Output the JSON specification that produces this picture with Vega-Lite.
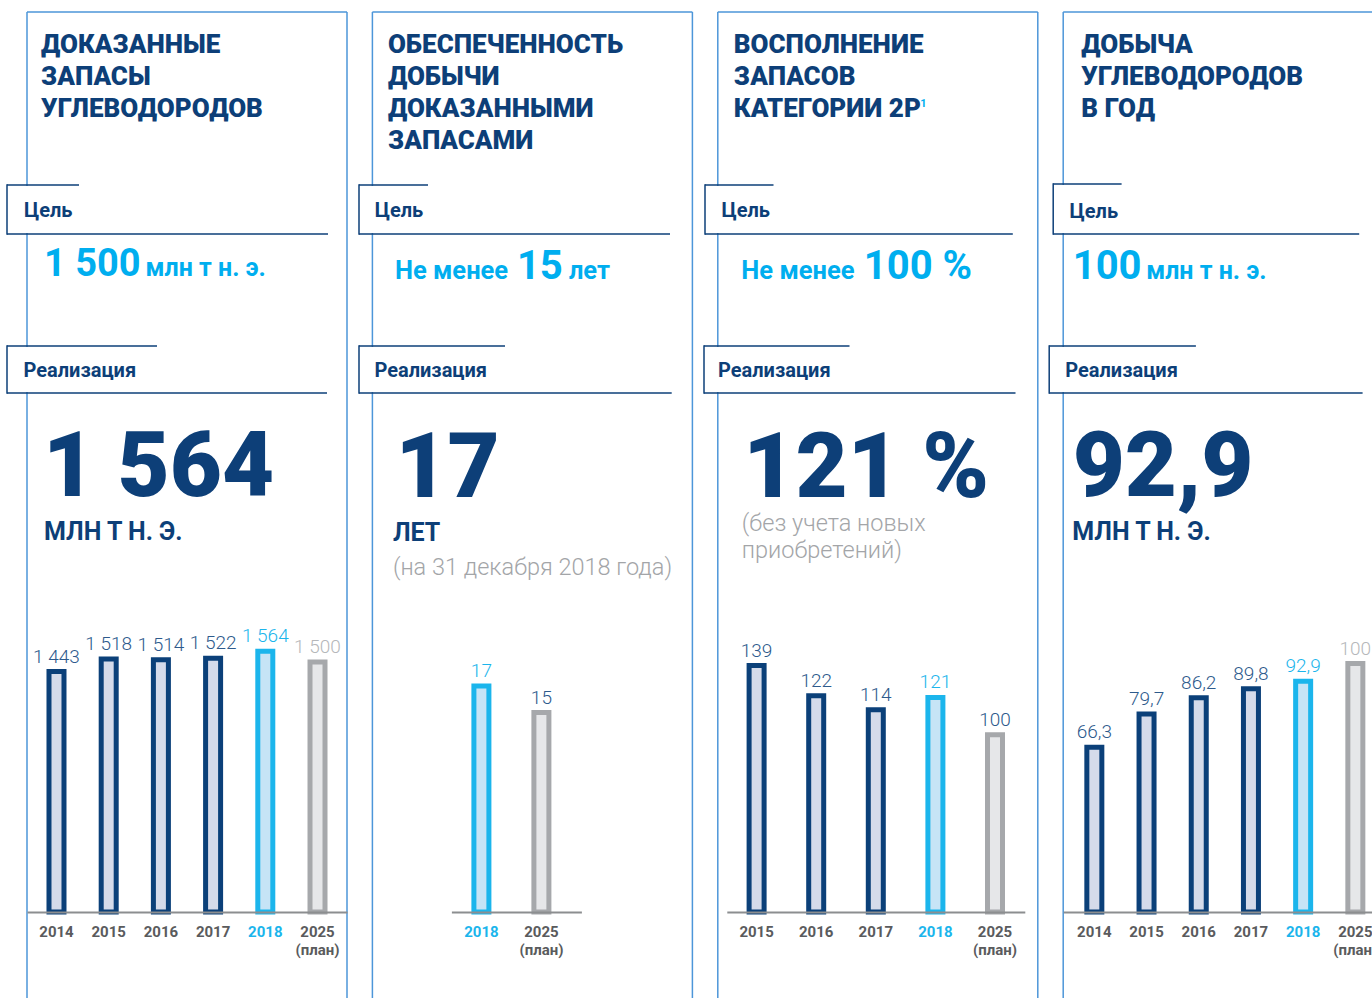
{
"$schema": "https://vega.github.io/schema/vega-lite/v6.json",
"padding": {"left": 6, "top": 11, "right": 0, "bottom": 0},
"bounds": "flush",
"spacing": 25.4,
"background": "#ffffff",
"config": {
  "view": {"stroke": null},
  "font": "Roboto",
  "locale": {"number": {"decimal": ",", "thousands": " ", "grouping": [3], "currency": ["", ""]}}
},
"datasets": {
  "reserves": [
    {"year": "2014", "value": 1443, "status": "fact"},
    {"year": "2015", "value": 1518, "status": "fact"},
    {"year": "2016", "value": 1514, "status": "fact"},
    {"year": "2017", "value": 1522, "status": "fact"},
    {"year": "2018", "value": 1564, "status": "current"},
    {"year": "2025", "value": 1500, "status": "plan"}
  ],
  "sufficiency": [
    {"year": "2018", "value": 17, "status": "current"},
    {"year": "2025", "value": 15, "status": "plan"}
  ],
  "replacement": [
    {"year": "2015", "value": 139, "status": "fact"},
    {"year": "2016", "value": 122, "status": "fact"},
    {"year": "2017", "value": 114, "status": "fact"},
    {"year": "2018", "value": 121, "status": "current"},
    {"year": "2025", "value": 100, "status": "plan"}
  ],
  "production": [
    {"year": "2014", "value": 66.3, "status": "fact"},
    {"year": "2015", "value": 79.7, "status": "fact"},
    {"year": "2016", "value": 86.2, "status": "fact"},
    {"year": "2017", "value": 89.8, "status": "fact"},
    {"year": "2018", "value": 92.9, "status": "current"},
    {"year": "2025", "value": 100, "status": "plan"}
  ]
},
"hconcat": [
{
"width": 320, "height": 900,
"resolve": {"scale": {"x": "independent", "y": "independent"}},
"layer": [
 {"data": {"values": [{"element": "frame"}]},
  "layer": [
   {"mark": {"type": "rule", "stroke": "#4d96d9", "strokeWidth": 1.5}, "encoding": {"x": {"datum": 0, "type": "quantitative", "scale": {"domain": [0, 320], "nice": false, "zero": false}, "axis": null}, "x2": {"datum": 320}, "y": {"datum": 0, "type": "quantitative", "scale": {"domain": [900, 0], "nice": false, "zero": false}, "axis": null}}},
   {"mark": {"type": "rule", "stroke": "#4d96d9", "strokeWidth": 1.5}, "encoding": {"x": {"datum": 0, "type": "quantitative", "scale": {"domain": [0, 320], "nice": false, "zero": false}, "axis": null}, "y": {"datum": 0, "type": "quantitative", "scale": {"domain": [900, 0], "nice": false, "zero": false}, "axis": null}, "y2": {"datum": 986}}},
   {"mark": {"type": "rule", "stroke": "#4d96d9", "strokeWidth": 1.5}, "encoding": {"x": {"datum": 320, "type": "quantitative", "scale": {"domain": [0, 320], "nice": false, "zero": false}, "axis": null}, "y": {"datum": 0, "type": "quantitative", "scale": {"domain": [900, 0], "nice": false, "zero": false}, "axis": null}, "y2": {"datum": 986}}},
   {"mark": {"type": "rect", "fill": "#ffffff"}, "encoding": {"x": {"datum": -19, "type": "quantitative", "scale": {"domain": [0, 320], "nice": false, "zero": false}, "axis": null}, "x2": {"datum": 4}, "y": {"datum": 174, "type": "quantitative", "scale": {"domain": [900, 0], "nice": false, "zero": false}, "axis": null}, "y2": {"datum": 221}}},
   {"mark": {"type": "rule", "stroke": "#0d3f78", "strokeWidth": 1.5}, "encoding": {"x": {"datum": -20, "type": "quantitative", "scale": {"domain": [0, 320], "nice": false, "zero": false}, "axis": null}, "x2": {"datum": 52}, "y": {"datum": 173, "type": "quantitative", "scale": {"domain": [900, 0], "nice": false, "zero": false}, "axis": null}}},
   {"mark": {"type": "rule", "stroke": "#0d3f78", "strokeWidth": 1.5}, "encoding": {"x": {"datum": -20, "type": "quantitative", "scale": {"domain": [0, 320], "nice": false, "zero": false}, "axis": null}, "y": {"datum": 172.3, "type": "quantitative", "scale": {"domain": [900, 0], "nice": false, "zero": false}, "axis": null}, "y2": {"datum": 222.7}}},
   {"mark": {"type": "rule", "stroke": "#0d3f78", "strokeWidth": 1.5}, "encoding": {"x": {"datum": -20, "type": "quantitative", "scale": {"domain": [0, 320], "nice": false, "zero": false}, "axis": null}, "x2": {"datum": 301}, "y": {"datum": 222, "type": "quantitative", "scale": {"domain": [900, 0], "nice": false, "zero": false}, "axis": null}}},
   {"mark": {"type": "rect", "fill": "#ffffff"}, "encoding": {"x": {"datum": -19, "type": "quantitative", "scale": {"domain": [0, 320], "nice": false, "zero": false}, "axis": null}, "x2": {"datum": 4}, "y": {"datum": 335, "type": "quantitative", "scale": {"domain": [900, 0], "nice": false, "zero": false}, "axis": null}, "y2": {"datum": 380}}},
   {"mark": {"type": "rule", "stroke": "#0d3f78", "strokeWidth": 1.5}, "encoding": {"x": {"datum": -20, "type": "quantitative", "scale": {"domain": [0, 320], "nice": false, "zero": false}, "axis": null}, "x2": {"datum": 130}, "y": {"datum": 334, "type": "quantitative", "scale": {"domain": [900, 0], "nice": false, "zero": false}, "axis": null}}},
   {"mark": {"type": "rule", "stroke": "#0d3f78", "strokeWidth": 1.5}, "encoding": {"x": {"datum": -20, "type": "quantitative", "scale": {"domain": [0, 320], "nice": false, "zero": false}, "axis": null}, "y": {"datum": 333.3, "type": "quantitative", "scale": {"domain": [900, 0], "nice": false, "zero": false}, "axis": null}, "y2": {"datum": 381.7}}},
   {"mark": {"type": "rule", "stroke": "#0d3f78", "strokeWidth": 1.5}, "encoding": {"x": {"datum": -20, "type": "quantitative", "scale": {"domain": [0, 320], "nice": false, "zero": false}, "axis": null}, "x2": {"datum": 300}, "y": {"datum": 381, "type": "quantitative", "scale": {"domain": [900, 0], "nice": false, "zero": false}, "axis": null}}},
   {"data": {"values": [{"text": ["ДОКАЗАННЫЕ", "ЗАПАСЫ", "УГЛЕВОДОРОДОВ"]}]}, "mark": {"type": "text", "align": "left", "baseline": "alphabetic", "fontSize": 26, "fontWeight": 900, "lineHeight": 32, "color": "#0d3f78"}, "encoding": {"x": {"datum": 14, "type": "quantitative", "scale": {"domain": [0, 320], "nice": false, "zero": false}, "axis": null}, "y": {"datum": 40.5, "type": "quantitative", "scale": {"domain": [900, 0], "nice": false, "zero": false}, "axis": null}, "text": {"field": "text"}}},
   {"data": {"values": [{"text": "Цель"}]}, "mark": {"type": "text", "align": "left", "baseline": "alphabetic", "fontSize": 20, "fontWeight": "bold", "color": "#0d3f78"}, "encoding": {"x": {"datum": -3, "type": "quantitative", "scale": {"domain": [0, 320], "nice": false, "zero": false}, "axis": null}, "y": {"datum": 205, "type": "quantitative", "scale": {"domain": [900, 0], "nice": false, "zero": false}, "axis": null}, "text": {"field": "text"}}},
   {"data": {"values": [{"text": "1 500"}]}, "mark": {"type": "text", "align": "left", "baseline": "alphabetic", "fontSize": 38, "fontWeight": "bold", "color": "#00aeef"}, "encoding": {"x": {"datum": 17, "type": "quantitative", "scale": {"domain": [0, 320], "nice": false, "zero": false}, "axis": null}, "y": {"datum": 264, "type": "quantitative", "scale": {"domain": [900, 0], "nice": false, "zero": false}, "axis": null}, "text": {"field": "text"}}},
   {"data": {"values": [{"text": "млн т н. э."}]}, "mark": {"type": "text", "align": "left", "baseline": "alphabetic", "fontSize": 25, "fontWeight": "bold", "color": "#00aeef"}, "encoding": {"x": {"datum": 118.5, "type": "quantitative", "scale": {"domain": [0, 320], "nice": false, "zero": false}, "axis": null}, "y": {"datum": 264, "type": "quantitative", "scale": {"domain": [900, 0], "nice": false, "zero": false}, "axis": null}, "text": {"field": "text"}}},
   {"data": {"values": [{"text": "Реализация"}]}, "mark": {"type": "text", "align": "left", "baseline": "alphabetic", "fontSize": 20, "fontWeight": "bold", "color": "#0d3f78"}, "encoding": {"x": {"datum": -3.5, "type": "quantitative", "scale": {"domain": [0, 320], "nice": false, "zero": false}, "axis": null}, "y": {"datum": 365, "type": "quantitative", "scale": {"domain": [900, 0], "nice": false, "zero": false}, "axis": null}, "text": {"field": "text"}}},
   {"data": {"values": [{"text": "1 564"}]}, "mark": {"type": "text", "align": "left", "baseline": "alphabetic", "fontSize": 90, "fontWeight": 900, "color": "#0d3f78"}, "encoding": {"x": {"datum": 16, "type": "quantitative", "scale": {"domain": [0, 320], "nice": false, "zero": false}, "axis": null}, "y": {"datum": 484, "type": "quantitative", "scale": {"domain": [900, 0], "nice": false, "zero": false}, "axis": null}, "text": {"field": "text"}}},
   {"data": {"values": [{"text": "МЛН Т Н. Э."}]}, "mark": {"type": "text", "align": "left", "baseline": "alphabetic", "fontSize": 25, "fontWeight": "bold", "color": "#0d3f78"}, "encoding": {"x": {"datum": 17, "type": "quantitative", "scale": {"domain": [0, 320], "nice": false, "zero": false}, "axis": null}, "y": {"datum": 528, "type": "quantitative", "scale": {"domain": [900, 0], "nice": false, "zero": false}, "axis": null}, "text": {"field": "text"}}}
  ]},
 {"data": {"name": "reserves"},
  "encoding": {
    "x": {"field": "year", "type": "ordinal", "sort": null, "scale": {"type": "band", "paddingInner": 0.5, "paddingOuter": 0.315},
          "axis": {"title": null, "domainColor": "#8c8e90", "domainWidth": 2, "ticks": false, "tickSize": 0, "labelPadding": 12, "labelFontSize": 15, "labelFontWeight": "bold", "labelColor": {"condition": {"test": "datum.value === '2018'", "value": "#1bb5ec"}, "value": "#5a5b5d"}, "labelExpr": "datum.value === '2025' ? ['2025', '(план)'] : datum.value", "labelLineHeight": 18, "labelAngle": 0, "labelBaseline": "top", "zindex": 1, "labelOverlap": false, "grid": false}},
    "y": {"field": "value", "type": "quantitative", "scale": {"domain": [0, 5400], "nice": false}, "axis": null}
  },
  "layer": [
    {"mark": {"type": "bar", "width": 15, "strokeWidth": 5},
     "encoding": {
       "fill": {"field": "status", "type": "nominal", "scale": {"domain": ["fact", "current", "plan"], "range": ["#d5dbea", "#c6e4f6", "#e6e7e9"]}, "legend": null},
       "stroke": {"field": "status", "type": "nominal", "scale": {"domain": ["fact", "current", "plan"], "range": ["#0b4079", "#1bb5ec", "#a6a8ab"]}, "legend": null}
     }},
    {"mark": {"type": "text", "dy": -9, "fontSize": 19, "fontWeight": 300, "baseline": "alphabetic"},
     "encoding": {
       "text": {"field": "value", "type": "quantitative", "format": ",d"},
       "color": {"condition": [{"test": "datum.status === 'current'", "value": "#1bb5ec"}, {"test": "datum.status === 'plan'", "value": "#b5b7ba"}], "value": "#2d5a8c"}
     }}
  ]}
]
},
{
"width": 320, "height": 900,
"resolve": {"scale": {"x": "independent", "y": "independent"}},
"layer": [
 {"data": {"values": [{"element": "frame"}]},
  "layer": [
   {"mark": {"type": "rule", "stroke": "#4d96d9", "strokeWidth": 1.5}, "encoding": {"x": {"datum": 0, "type": "quantitative", "scale": {"domain": [0, 320], "nice": false, "zero": false}, "axis": null}, "x2": {"datum": 320}, "y": {"datum": 0, "type": "quantitative", "scale": {"domain": [900, 0], "nice": false, "zero": false}, "axis": null}}},
   {"mark": {"type": "rule", "stroke": "#4d96d9", "strokeWidth": 1.5}, "encoding": {"x": {"datum": 0, "type": "quantitative", "scale": {"domain": [0, 320], "nice": false, "zero": false}, "axis": null}, "y": {"datum": 0, "type": "quantitative", "scale": {"domain": [900, 0], "nice": false, "zero": false}, "axis": null}, "y2": {"datum": 986}}},
   {"mark": {"type": "rule", "stroke": "#4d96d9", "strokeWidth": 1.5}, "encoding": {"x": {"datum": 320, "type": "quantitative", "scale": {"domain": [0, 320], "nice": false, "zero": false}, "axis": null}, "y": {"datum": 0, "type": "quantitative", "scale": {"domain": [900, 0], "nice": false, "zero": false}, "axis": null}, "y2": {"datum": 986}}},
   {"mark": {"type": "rect", "fill": "#ffffff"}, "encoding": {"x": {"datum": -12.5, "type": "quantitative", "scale": {"domain": [0, 320], "nice": false, "zero": false}, "axis": null}, "x2": {"datum": 4}, "y": {"datum": 174, "type": "quantitative", "scale": {"domain": [900, 0], "nice": false, "zero": false}, "axis": null}, "y2": {"datum": 221}}},
   {"mark": {"type": "rule", "stroke": "#0d3f78", "strokeWidth": 1.5}, "encoding": {"x": {"datum": -13.4, "type": "quantitative", "scale": {"domain": [0, 320], "nice": false, "zero": false}, "axis": null}, "x2": {"datum": 55.6}, "y": {"datum": 173, "type": "quantitative", "scale": {"domain": [900, 0], "nice": false, "zero": false}, "axis": null}}},
   {"mark": {"type": "rule", "stroke": "#0d3f78", "strokeWidth": 1.5}, "encoding": {"x": {"datum": -13.4, "type": "quantitative", "scale": {"domain": [0, 320], "nice": false, "zero": false}, "axis": null}, "y": {"datum": 172.3, "type": "quantitative", "scale": {"domain": [900, 0], "nice": false, "zero": false}, "axis": null}, "y2": {"datum": 222.7}}},
   {"mark": {"type": "rule", "stroke": "#0d3f78", "strokeWidth": 1.5}, "encoding": {"x": {"datum": -13.4, "type": "quantitative", "scale": {"domain": [0, 320], "nice": false, "zero": false}, "axis": null}, "x2": {"datum": 297.6}, "y": {"datum": 222, "type": "quantitative", "scale": {"domain": [900, 0], "nice": false, "zero": false}, "axis": null}}},
   {"mark": {"type": "rect", "fill": "#ffffff"}, "encoding": {"x": {"datum": -12.5, "type": "quantitative", "scale": {"domain": [0, 320], "nice": false, "zero": false}, "axis": null}, "x2": {"datum": 4}, "y": {"datum": 335, "type": "quantitative", "scale": {"domain": [900, 0], "nice": false, "zero": false}, "axis": null}, "y2": {"datum": 380}}},
   {"mark": {"type": "rule", "stroke": "#0d3f78", "strokeWidth": 1.5}, "encoding": {"x": {"datum": -13.4, "type": "quantitative", "scale": {"domain": [0, 320], "nice": false, "zero": false}, "axis": null}, "x2": {"datum": 132.6}, "y": {"datum": 334, "type": "quantitative", "scale": {"domain": [900, 0], "nice": false, "zero": false}, "axis": null}}},
   {"mark": {"type": "rule", "stroke": "#0d3f78", "strokeWidth": 1.5}, "encoding": {"x": {"datum": -13.4, "type": "quantitative", "scale": {"domain": [0, 320], "nice": false, "zero": false}, "axis": null}, "y": {"datum": 333.3, "type": "quantitative", "scale": {"domain": [900, 0], "nice": false, "zero": false}, "axis": null}, "y2": {"datum": 381.7}}},
   {"mark": {"type": "rule", "stroke": "#0d3f78", "strokeWidth": 1.5}, "encoding": {"x": {"datum": -13.4, "type": "quantitative", "scale": {"domain": [0, 320], "nice": false, "zero": false}, "axis": null}, "x2": {"datum": 299.3}, "y": {"datum": 381, "type": "quantitative", "scale": {"domain": [900, 0], "nice": false, "zero": false}, "axis": null}}},
   {"data": {"values": [{"text": ["ОБЕСПЕЧЕННОСТЬ", "ДОБЫЧИ", "ДОКАЗАННЫМИ", "ЗАПАСАМИ"]}]}, "mark": {"type": "text", "align": "left", "baseline": "alphabetic", "fontSize": 26, "fontWeight": 900, "lineHeight": 32, "color": "#0d3f78"}, "encoding": {"x": {"datum": 15.5, "type": "quantitative", "scale": {"domain": [0, 320], "nice": false, "zero": false}, "axis": null}, "y": {"datum": 40.5, "type": "quantitative", "scale": {"domain": [900, 0], "nice": false, "zero": false}, "axis": null}, "text": {"field": "text"}}},
   {"data": {"values": [{"text": "Цель"}]}, "mark": {"type": "text", "align": "left", "baseline": "alphabetic", "fontSize": 20, "fontWeight": "bold", "color": "#0d3f78"}, "encoding": {"x": {"datum": 2.3, "type": "quantitative", "scale": {"domain": [0, 320], "nice": false, "zero": false}, "axis": null}, "y": {"datum": 205, "type": "quantitative", "scale": {"domain": [900, 0], "nice": false, "zero": false}, "axis": null}, "text": {"field": "text"}}},
   {"data": {"values": [{"text": "Не менее"}]}, "mark": {"type": "text", "align": "left", "baseline": "alphabetic", "fontSize": 25.5, "fontWeight": "bold", "color": "#00aeef"}, "encoding": {"x": {"datum": 22.5, "type": "quantitative", "scale": {"domain": [0, 320], "nice": false, "zero": false}, "axis": null}, "y": {"datum": 267, "type": "quantitative", "scale": {"domain": [900, 0], "nice": false, "zero": false}, "axis": null}, "text": {"field": "text"}}},
   {"data": {"values": [{"text": "15"}]}, "mark": {"type": "text", "align": "left", "baseline": "alphabetic", "fontSize": 40, "fontWeight": "bold", "color": "#00aeef"}, "encoding": {"x": {"datum": 144.5, "type": "quantitative", "scale": {"domain": [0, 320], "nice": false, "zero": false}, "axis": null}, "y": {"datum": 267, "type": "quantitative", "scale": {"domain": [900, 0], "nice": false, "zero": false}, "axis": null}, "text": {"field": "text"}}},
   {"data": {"values": [{"text": "лет"}]}, "mark": {"type": "text", "align": "left", "baseline": "alphabetic", "fontSize": 25.5, "fontWeight": "bold", "color": "#00aeef"}, "encoding": {"x": {"datum": 196.5, "type": "quantitative", "scale": {"domain": [0, 320], "nice": false, "zero": false}, "axis": null}, "y": {"datum": 267, "type": "quantitative", "scale": {"domain": [900, 0], "nice": false, "zero": false}, "axis": null}, "text": {"field": "text"}}},
   {"data": {"values": [{"text": "Реализация"}]}, "mark": {"type": "text", "align": "left", "baseline": "alphabetic", "fontSize": 20, "fontWeight": "bold", "color": "#0d3f78"}, "encoding": {"x": {"datum": 2, "type": "quantitative", "scale": {"domain": [0, 320], "nice": false, "zero": false}, "axis": null}, "y": {"datum": 365, "type": "quantitative", "scale": {"domain": [900, 0], "nice": false, "zero": false}, "axis": null}, "text": {"field": "text"}}},
   {"data": {"values": [{"text": "17"}]}, "mark": {"type": "text", "align": "left", "baseline": "alphabetic", "fontSize": 90, "fontWeight": 900, "color": "#0d3f78"}, "encoding": {"x": {"datum": 23, "type": "quantitative", "scale": {"domain": [0, 320], "nice": false, "zero": false}, "axis": null}, "y": {"datum": 485, "type": "quantitative", "scale": {"domain": [900, 0], "nice": false, "zero": false}, "axis": null}, "text": {"field": "text"}}},
   {"data": {"values": [{"text": "ЛЕТ"}]}, "mark": {"type": "text", "align": "left", "baseline": "alphabetic", "fontSize": 25, "fontWeight": "bold", "color": "#0d3f78"}, "encoding": {"x": {"datum": 20.5, "type": "quantitative", "scale": {"domain": [0, 320], "nice": false, "zero": false}, "axis": null}, "y": {"datum": 529, "type": "quantitative", "scale": {"domain": [900, 0], "nice": false, "zero": false}, "axis": null}, "text": {"field": "text"}}},
   {"data": {"values": [{"text": "(на 31 декабря 2018 года)"}]}, "mark": {"type": "text", "align": "left", "baseline": "alphabetic", "fontSize": 23.5, "fontWeight": 300, "color": "#a3a5a8"}, "encoding": {"x": {"datum": 20.5, "type": "quantitative", "scale": {"domain": [0, 320], "nice": false, "zero": false}, "axis": null}, "y": {"datum": 563, "type": "quantitative", "scale": {"domain": [900, 0], "nice": false, "zero": false}, "axis": null}, "text": {"field": "text"}}}
  ]},
 {"data": {"name": "sufficiency"},
  "encoding": {
    "x": {"field": "year", "type": "ordinal", "sort": null, "scale": {"type": "band", "range": [79, 209], "paddingInner": 0.5, "paddingOuter": 0.3333, "align": 0.375},
          "axis": {"title": null, "domainColor": "#8c8e90", "domainWidth": 2, "ticks": false, "tickSize": 0, "labelPadding": 12, "labelFontSize": 15, "labelFontWeight": "bold", "labelColor": {"condition": {"test": "datum.value === '2018'", "value": "#1bb5ec"}, "value": "#5a5b5d"}, "labelExpr": "datum.value === '2025' ? ['2025', '(план)'] : datum.value", "labelLineHeight": 18, "labelAngle": 0, "labelBaseline": "top", "zindex": 1, "labelOverlap": false, "grid": false}},
    "y": {"field": "value", "type": "quantitative", "scale": {"domain": [0, 67.67], "nice": false}, "axis": null}
  },
  "layer": [
    {"mark": {"type": "bar", "width": 15, "strokeWidth": 5},
     "encoding": {
       "fill": {"field": "status", "type": "nominal", "scale": {"domain": ["fact", "current", "plan"], "range": ["#d5dbea", "#c6e4f6", "#e6e7e9"]}, "legend": null},
       "stroke": {"field": "status", "type": "nominal", "scale": {"domain": ["fact", "current", "plan"], "range": ["#0b4079", "#1bb5ec", "#a6a8ab"]}, "legend": null}
     }},
    {"mark": {"type": "text", "dy": -9, "fontSize": 19, "fontWeight": 300, "baseline": "alphabetic"},
     "encoding": {
       "text": {"field": "value", "type": "quantitative", "format": "d"},
       "color": {"condition": {"test": "datum.status === 'current'", "value": "#1bb5ec"}, "value": "#2d5a8c"}
     }}
  ]}
]
},
{
"width": 320, "height": 900,
"resolve": {"scale": {"x": "independent", "y": "independent"}},
"layer": [
 {"data": {"values": [{"element": "frame"}]},
  "layer": [
   {"mark": {"type": "rule", "stroke": "#4d96d9", "strokeWidth": 1.5}, "encoding": {"x": {"datum": 0, "type": "quantitative", "scale": {"domain": [0, 320], "nice": false, "zero": false}, "axis": null}, "x2": {"datum": 320}, "y": {"datum": 0, "type": "quantitative", "scale": {"domain": [900, 0], "nice": false, "zero": false}, "axis": null}}},
   {"mark": {"type": "rule", "stroke": "#4d96d9", "strokeWidth": 1.5}, "encoding": {"x": {"datum": 0, "type": "quantitative", "scale": {"domain": [0, 320], "nice": false, "zero": false}, "axis": null}, "y": {"datum": 0, "type": "quantitative", "scale": {"domain": [900, 0], "nice": false, "zero": false}, "axis": null}, "y2": {"datum": 986}}},
   {"mark": {"type": "rule", "stroke": "#4d96d9", "strokeWidth": 1.5}, "encoding": {"x": {"datum": 320, "type": "quantitative", "scale": {"domain": [0, 320], "nice": false, "zero": false}, "axis": null}, "y": {"datum": 0, "type": "quantitative", "scale": {"domain": [900, 0], "nice": false, "zero": false}, "axis": null}, "y2": {"datum": 986}}},
   {"mark": {"type": "rect", "fill": "#ffffff"}, "encoding": {"x": {"datum": -12, "type": "quantitative", "scale": {"domain": [0, 320], "nice": false, "zero": false}, "axis": null}, "x2": {"datum": 3}, "y": {"datum": 174, "type": "quantitative", "scale": {"domain": [900, 0], "nice": false, "zero": false}, "axis": null}, "y2": {"datum": 221}}},
   {"mark": {"type": "rule", "stroke": "#0d3f78", "strokeWidth": 1.5}, "encoding": {"x": {"datum": -12.8, "type": "quantitative", "scale": {"domain": [0, 320], "nice": false, "zero": false}, "axis": null}, "x2": {"datum": 55.7}, "y": {"datum": 173, "type": "quantitative", "scale": {"domain": [900, 0], "nice": false, "zero": false}, "axis": null}}},
   {"mark": {"type": "rule", "stroke": "#0d3f78", "strokeWidth": 1.5}, "encoding": {"x": {"datum": -12.8, "type": "quantitative", "scale": {"domain": [0, 320], "nice": false, "zero": false}, "axis": null}, "y": {"datum": 172.3, "type": "quantitative", "scale": {"domain": [900, 0], "nice": false, "zero": false}, "axis": null}, "y2": {"datum": 222.7}}},
   {"mark": {"type": "rule", "stroke": "#0d3f78", "strokeWidth": 1.5}, "encoding": {"x": {"datum": -12.8, "type": "quantitative", "scale": {"domain": [0, 320], "nice": false, "zero": false}, "axis": null}, "x2": {"datum": 295}, "y": {"datum": 222, "type": "quantitative", "scale": {"domain": [900, 0], "nice": false, "zero": false}, "axis": null}}},
   {"mark": {"type": "rect", "fill": "#ffffff"}, "encoding": {"x": {"datum": -13, "type": "quantitative", "scale": {"domain": [0, 320], "nice": false, "zero": false}, "axis": null}, "x2": {"datum": 3}, "y": {"datum": 335, "type": "quantitative", "scale": {"domain": [900, 0], "nice": false, "zero": false}, "axis": null}, "y2": {"datum": 380}}},
   {"mark": {"type": "rule", "stroke": "#0d3f78", "strokeWidth": 1.5}, "encoding": {"x": {"datum": -13.8, "type": "quantitative", "scale": {"domain": [0, 320], "nice": false, "zero": false}, "axis": null}, "x2": {"datum": 131.7}, "y": {"datum": 334, "type": "quantitative", "scale": {"domain": [900, 0], "nice": false, "zero": false}, "axis": null}}},
   {"mark": {"type": "rule", "stroke": "#0d3f78", "strokeWidth": 1.5}, "encoding": {"x": {"datum": -13.8, "type": "quantitative", "scale": {"domain": [0, 320], "nice": false, "zero": false}, "axis": null}, "y": {"datum": 333.3, "type": "quantitative", "scale": {"domain": [900, 0], "nice": false, "zero": false}, "axis": null}, "y2": {"datum": 381.7}}},
   {"mark": {"type": "rule", "stroke": "#0d3f78", "strokeWidth": 1.5}, "encoding": {"x": {"datum": -13.8, "type": "quantitative", "scale": {"domain": [0, 320], "nice": false, "zero": false}, "axis": null}, "x2": {"datum": 297.7}, "y": {"datum": 381, "type": "quantitative", "scale": {"domain": [900, 0], "nice": false, "zero": false}, "axis": null}}},
   {"data": {"values": [{"text": ["ВОСПОЛНЕНИЕ", "ЗАПАСОВ", "КАТЕГОРИИ 2Р"]}]}, "mark": {"type": "text", "align": "left", "baseline": "alphabetic", "fontSize": 26, "fontWeight": 900, "lineHeight": 32, "color": "#0d3f78"}, "encoding": {"x": {"datum": 16, "type": "quantitative", "scale": {"domain": [0, 320], "nice": false, "zero": false}, "axis": null}, "y": {"datum": 40.5, "type": "quantitative", "scale": {"domain": [900, 0], "nice": false, "zero": false}, "axis": null}, "text": {"field": "text"}}},
   {"data": {"values": [{"text": "1"}]}, "mark": {"type": "text", "align": "left", "baseline": "alphabetic", "fontSize": 11, "fontWeight": "bold", "color": "#00aeef"}, "encoding": {"x": {"datum": 202.5, "type": "quantitative", "scale": {"domain": [0, 320], "nice": false, "zero": false}, "axis": null}, "y": {"datum": 95, "type": "quantitative", "scale": {"domain": [900, 0], "nice": false, "zero": false}, "axis": null}, "text": {"field": "text"}}},
   {"data": {"values": [{"text": "Цель"}]}, "mark": {"type": "text", "align": "left", "baseline": "alphabetic", "fontSize": 20, "fontWeight": "bold", "color": "#0d3f78"}, "encoding": {"x": {"datum": 3.7, "type": "quantitative", "scale": {"domain": [0, 320], "nice": false, "zero": false}, "axis": null}, "y": {"datum": 205, "type": "quantitative", "scale": {"domain": [900, 0], "nice": false, "zero": false}, "axis": null}, "text": {"field": "text"}}},
   {"data": {"values": [{"text": "Не менее"}]}, "mark": {"type": "text", "align": "left", "baseline": "alphabetic", "fontSize": 25.5, "fontWeight": "bold", "color": "#00aeef"}, "encoding": {"x": {"datum": 23.5, "type": "quantitative", "scale": {"domain": [0, 320], "nice": false, "zero": false}, "axis": null}, "y": {"datum": 267, "type": "quantitative", "scale": {"domain": [900, 0], "nice": false, "zero": false}, "axis": null}, "text": {"field": "text"}}},
   {"data": {"values": [{"text": "100 %"}]}, "mark": {"type": "text", "align": "left", "baseline": "alphabetic", "fontSize": 40, "fontWeight": "bold", "color": "#00aeef"}, "encoding": {"x": {"datum": 146, "type": "quantitative", "scale": {"domain": [0, 320], "nice": false, "zero": false}, "axis": null}, "y": {"datum": 267, "type": "quantitative", "scale": {"domain": [900, 0], "nice": false, "zero": false}, "axis": null}, "text": {"field": "text"}}},
   {"data": {"values": [{"text": "Реализация"}]}, "mark": {"type": "text", "align": "left", "baseline": "alphabetic", "fontSize": 20, "fontWeight": "bold", "color": "#0d3f78"}, "encoding": {"x": {"datum": 0.2, "type": "quantitative", "scale": {"domain": [0, 320], "nice": false, "zero": false}, "axis": null}, "y": {"datum": 365, "type": "quantitative", "scale": {"domain": [900, 0], "nice": false, "zero": false}, "axis": null}, "text": {"field": "text"}}},
   {"data": {"values": [{"text": "121 %"}]}, "mark": {"type": "text", "align": "left", "baseline": "alphabetic", "fontSize": 90, "fontWeight": 900, "color": "#0d3f78"}, "encoding": {"x": {"datum": 25.5, "type": "quantitative", "scale": {"domain": [0, 320], "nice": false, "zero": false}, "axis": null}, "y": {"datum": 485, "type": "quantitative", "scale": {"domain": [900, 0], "nice": false, "zero": false}, "axis": null}, "text": {"field": "text"}}},
   {"data": {"values": [{"text": ["(без учета новых", "приобретений)"]}]}, "mark": {"type": "text", "align": "left", "baseline": "alphabetic", "fontSize": 23.5, "fontWeight": 300, "lineHeight": 27, "color": "#a3a5a8"}, "encoding": {"x": {"datum": 24, "type": "quantitative", "scale": {"domain": [0, 320], "nice": false, "zero": false}, "axis": null}, "y": {"datum": 519, "type": "quantitative", "scale": {"domain": [900, 0], "nice": false, "zero": false}, "axis": null}, "text": {"field": "text"}}}
  ]},
 {"data": {"name": "replacement"},
  "encoding": {
    "x": {"field": "year", "type": "ordinal", "sort": null, "scale": {"type": "band", "range": [9, 307], "paddingInner": 0.5, "paddingOuter": 0.25},
          "axis": {"title": null, "domainColor": "#8c8e90", "domainWidth": 2, "ticks": false, "tickSize": 0, "labelPadding": 12, "labelFontSize": 15, "labelFontWeight": "bold", "labelColor": {"condition": {"test": "datum.value === '2018'", "value": "#1bb5ec"}, "value": "#5a5b5d"}, "labelExpr": "datum.value === '2025' ? ['2025', '(план)'] : datum.value", "labelLineHeight": 18, "labelAngle": 0, "labelBaseline": "top", "zindex": 1, "labelOverlap": false, "grid": false}},
    "y": {"field": "value", "type": "quantitative", "scale": {"domain": [0, 507.6], "nice": false}, "axis": null}
  },
  "layer": [
    {"mark": {"type": "bar", "width": 15, "strokeWidth": 5},
     "encoding": {
       "fill": {"field": "status", "type": "nominal", "scale": {"domain": ["fact", "current", "plan"], "range": ["#d5dbea", "#c6e4f6", "#e6e7e9"]}, "legend": null},
       "stroke": {"field": "status", "type": "nominal", "scale": {"domain": ["fact", "current", "plan"], "range": ["#0b4079", "#1bb5ec", "#a6a8ab"]}, "legend": null}
     }},
    {"mark": {"type": "text", "dy": -9, "fontSize": 19, "fontWeight": 300, "baseline": "alphabetic"},
     "encoding": {
       "text": {"field": "value", "type": "quantitative", "format": "d"},
       "color": {"condition": {"test": "datum.status === 'current'", "value": "#1bb5ec"}, "value": "#2d5a8c"}
     }}
  ]}
]
},
{
"width": 320, "height": 900,
"resolve": {"scale": {"x": "independent", "y": "independent"}},
"layer": [
 {"data": {"values": [{"element": "frame"}]},
  "layer": [
   {"mark": {"type": "rule", "stroke": "#4d96d9", "strokeWidth": 1.5}, "encoding": {"x": {"datum": 0, "type": "quantitative", "scale": {"domain": [0, 320], "nice": false, "zero": false}, "axis": null}, "x2": {"datum": 320}, "y": {"datum": 0, "type": "quantitative", "scale": {"domain": [900, 0], "nice": false, "zero": false}, "axis": null}}},
   {"mark": {"type": "rule", "stroke": "#4d96d9", "strokeWidth": 1.5}, "encoding": {"x": {"datum": 0, "type": "quantitative", "scale": {"domain": [0, 320], "nice": false, "zero": false}, "axis": null}, "y": {"datum": 0, "type": "quantitative", "scale": {"domain": [900, 0], "nice": false, "zero": false}, "axis": null}, "y2": {"datum": 986}}},
   {"mark": {"type": "rect", "fill": "#ffffff"}, "encoding": {"x": {"datum": -9.5, "type": "quantitative", "scale": {"domain": [0, 320], "nice": false, "zero": false}, "axis": null}, "x2": {"datum": 4}, "y": {"datum": 173, "type": "quantitative", "scale": {"domain": [900, 0], "nice": false, "zero": false}, "axis": null}, "y2": {"datum": 221}}},
   {"mark": {"type": "rule", "stroke": "#0d3f78", "strokeWidth": 1.5}, "encoding": {"x": {"datum": -10, "type": "quantitative", "scale": {"domain": [0, 320], "nice": false, "zero": false}, "axis": null}, "x2": {"datum": 58.4}, "y": {"datum": 172, "type": "quantitative", "scale": {"domain": [900, 0], "nice": false, "zero": false}, "axis": null}}},
   {"mark": {"type": "rule", "stroke": "#0d3f78", "strokeWidth": 1.5}, "encoding": {"x": {"datum": -10, "type": "quantitative", "scale": {"domain": [0, 320], "nice": false, "zero": false}, "axis": null}, "y": {"datum": 171.3, "type": "quantitative", "scale": {"domain": [900, 0], "nice": false, "zero": false}, "axis": null}, "y2": {"datum": 222.7}}},
   {"mark": {"type": "rule", "stroke": "#0d3f78", "strokeWidth": 1.5}, "encoding": {"x": {"datum": -10, "type": "quantitative", "scale": {"domain": [0, 320], "nice": false, "zero": false}, "axis": null}, "x2": {"datum": 296}, "y": {"datum": 222, "type": "quantitative", "scale": {"domain": [900, 0], "nice": false, "zero": false}, "axis": null}}},
   {"mark": {"type": "rect", "fill": "#ffffff"}, "encoding": {"x": {"datum": -13, "type": "quantitative", "scale": {"domain": [0, 320], "nice": false, "zero": false}, "axis": null}, "x2": {"datum": 4}, "y": {"datum": 335, "type": "quantitative", "scale": {"domain": [900, 0], "nice": false, "zero": false}, "axis": null}, "y2": {"datum": 380}}},
   {"mark": {"type": "rule", "stroke": "#0d3f78", "strokeWidth": 1.5}, "encoding": {"x": {"datum": -14, "type": "quantitative", "scale": {"domain": [0, 320], "nice": false, "zero": false}, "axis": null}, "x2": {"datum": 132.7}, "y": {"datum": 334, "type": "quantitative", "scale": {"domain": [900, 0], "nice": false, "zero": false}, "axis": null}}},
   {"mark": {"type": "rule", "stroke": "#0d3f78", "strokeWidth": 1.5}, "encoding": {"x": {"datum": -14, "type": "quantitative", "scale": {"domain": [0, 320], "nice": false, "zero": false}, "axis": null}, "y": {"datum": 333.3, "type": "quantitative", "scale": {"domain": [900, 0], "nice": false, "zero": false}, "axis": null}, "y2": {"datum": 381.7}}},
   {"mark": {"type": "rule", "stroke": "#0d3f78", "strokeWidth": 1.5}, "encoding": {"x": {"datum": -14, "type": "quantitative", "scale": {"domain": [0, 320], "nice": false, "zero": false}, "axis": null}, "x2": {"datum": 299.4}, "y": {"datum": 381, "type": "quantitative", "scale": {"domain": [900, 0], "nice": false, "zero": false}, "axis": null}}},
   {"data": {"values": [{"text": ["ДОБЫЧА", "УГЛЕВОДОРОДОВ", "В ГОД"]}]}, "mark": {"type": "text", "align": "left", "baseline": "alphabetic", "fontSize": 26, "fontWeight": 900, "lineHeight": 32, "color": "#0d3f78"}, "encoding": {"x": {"datum": 18, "type": "quantitative", "scale": {"domain": [0, 320], "nice": false, "zero": false}, "axis": null}, "y": {"datum": 40.5, "type": "quantitative", "scale": {"domain": [900, 0], "nice": false, "zero": false}, "axis": null}, "text": {"field": "text"}}},
   {"data": {"values": [{"text": "Цель"}]}, "mark": {"type": "text", "align": "left", "baseline": "alphabetic", "fontSize": 20, "fontWeight": "bold", "color": "#0d3f78"}, "encoding": {"x": {"datum": 6.4, "type": "quantitative", "scale": {"domain": [0, 320], "nice": false, "zero": false}, "axis": null}, "y": {"datum": 206, "type": "quantitative", "scale": {"domain": [900, 0], "nice": false, "zero": false}, "axis": null}, "text": {"field": "text"}}},
   {"data": {"values": [{"text": "100"}]}, "mark": {"type": "text", "align": "left", "baseline": "alphabetic", "fontSize": 40, "fontWeight": "bold", "color": "#00aeef"}, "encoding": {"x": {"datum": 9.5, "type": "quantitative", "scale": {"domain": [0, 320], "nice": false, "zero": false}, "axis": null}, "y": {"datum": 267, "type": "quantitative", "scale": {"domain": [900, 0], "nice": false, "zero": false}, "axis": null}, "text": {"field": "text"}}},
   {"data": {"values": [{"text": "млн т н. э."}]}, "mark": {"type": "text", "align": "left", "baseline": "alphabetic", "fontSize": 25, "fontWeight": "bold", "color": "#00aeef"}, "encoding": {"x": {"datum": 83, "type": "quantitative", "scale": {"domain": [0, 320], "nice": false, "zero": false}, "axis": null}, "y": {"datum": 267, "type": "quantitative", "scale": {"domain": [900, 0], "nice": false, "zero": false}, "axis": null}, "text": {"field": "text"}}},
   {"data": {"values": [{"text": "Реализация"}]}, "mark": {"type": "text", "align": "left", "baseline": "alphabetic", "fontSize": 20, "fontWeight": "bold", "color": "#0d3f78"}, "encoding": {"x": {"datum": 2, "type": "quantitative", "scale": {"domain": [0, 320], "nice": false, "zero": false}, "axis": null}, "y": {"datum": 365, "type": "quantitative", "scale": {"domain": [900, 0], "nice": false, "zero": false}, "axis": null}, "text": {"field": "text"}}},
   {"data": {"values": [{"text": "92,9"}]}, "mark": {"type": "text", "align": "left", "baseline": "alphabetic", "fontSize": 90, "fontWeight": 900, "color": "#0d3f78"}, "encoding": {"x": {"datum": 9.5, "type": "quantitative", "scale": {"domain": [0, 320], "nice": false, "zero": false}, "axis": null}, "y": {"datum": 484, "type": "quantitative", "scale": {"domain": [900, 0], "nice": false, "zero": false}, "axis": null}, "text": {"field": "text"}}},
   {"data": {"values": [{"text": "МЛН Т Н. Э."}]}, "mark": {"type": "text", "align": "left", "baseline": "alphabetic", "fontSize": 25, "fontWeight": "bold", "color": "#0d3f78"}, "encoding": {"x": {"datum": 9, "type": "quantitative", "scale": {"domain": [0, 320], "nice": false, "zero": false}, "axis": null}, "y": {"datum": 528, "type": "quantitative", "scale": {"domain": [900, 0], "nice": false, "zero": false}, "axis": null}, "text": {"field": "text"}}}
  ]},
 {"data": {"name": "production"},
  "encoding": {
    "x": {"field": "year", "type": "ordinal", "sort": null, "scale": {"type": "band", "paddingInner": 0.5, "paddingOuter": 0.315, "align": 0.55},
          "axis": {"title": null, "domainColor": "#8c8e90", "domainWidth": 2, "ticks": false, "tickSize": 0, "labelPadding": 12, "labelFontSize": 15, "labelFontWeight": "bold", "labelColor": {"condition": {"test": "datum.value === '2018'", "value": "#1bb5ec"}, "value": "#5a5b5d"}, "labelExpr": "datum.value === '2025' ? ['2025', '(план)'] : datum.value", "labelLineHeight": 18, "labelAngle": 0, "labelBaseline": "top", "zindex": 1, "labelOverlap": false, "grid": false}},
    "y": {"field": "value", "type": "quantitative", "scale": {"domain": [0, 362.2], "nice": false}, "axis": null}
  },
  "layer": [
    {"mark": {"type": "bar", "width": 15, "strokeWidth": 5},
     "encoding": {
       "fill": {"field": "status", "type": "nominal", "scale": {"domain": ["fact", "current", "plan"], "range": ["#d5dbea", "#c6e4f6", "#e6e7e9"]}, "legend": null},
       "stroke": {"field": "status", "type": "nominal", "scale": {"domain": ["fact", "current", "plan"], "range": ["#0b4079", "#1bb5ec", "#a6a8ab"]}, "legend": null}
     }},
    {"mark": {"type": "text", "dy": -9, "fontSize": 19, "fontWeight": 300, "baseline": "alphabetic"},
     "encoding": {
       "text": {"field": "value", "type": "quantitative", "format": ".1~f"},
       "color": {"condition": [{"test": "datum.status === 'current'", "value": "#1bb5ec"}, {"test": "datum.status === 'plan'", "value": "#b5b7ba"}], "value": "#2d5a8c"}
     }}
  ]}
]
}
]
}
